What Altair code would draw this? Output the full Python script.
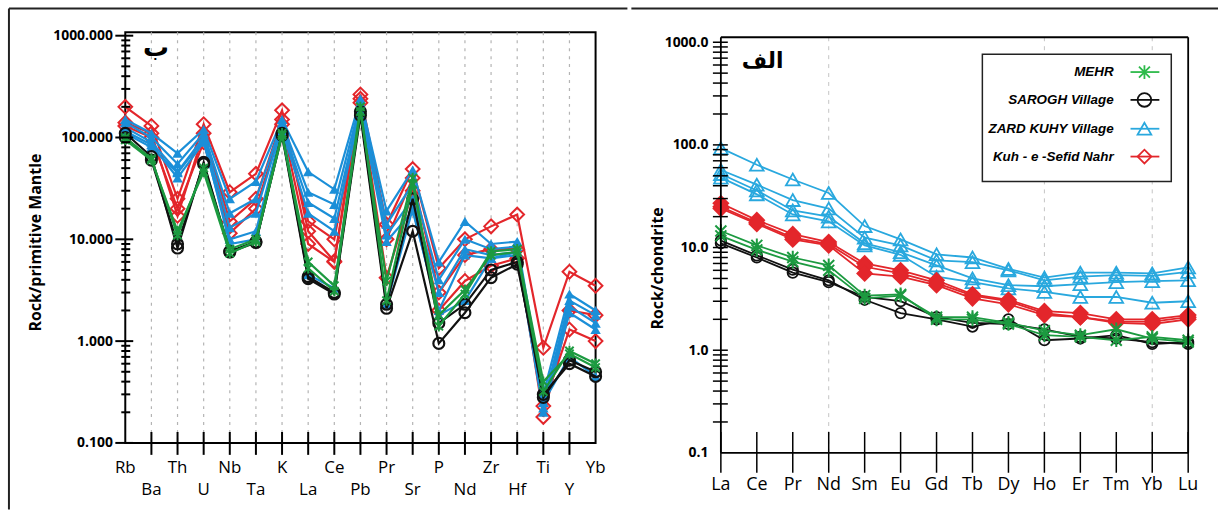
import altair as alt
import pandas as pd

# ---------------- data ----------------
SPIDER_ELEMENTS = ["Rb", "Ba", "Th", "U", "Nb", "Ta", "K", "La", "Ce", "Pb",
                   "Pr", "Sr", "P", "Nd", "Zr", "Hf", "Ti", "Y", "Yb"]
REE_ELEMENTS = ["La", "Ce", "Pr", "Nd", "Sm", "Eu", "Gd", "Tb", "Dy", "Ho",
                "Er", "Tm", "Yb", "Lu"]

GROUPS = ["MEHR", "SAROGH  Village", "ZARD KUHY Village", "Kuh - e -Sefid Nahr"]

# primitive-mantle normalised (left panel)
sp_red_1 = [200, 130, 25, 135, 29, 44, 185, 12, 6.1, 265, 14, 49, 5.2, 10, 13.4, 17.5, 0.86, 4.8, 3.5]
sp_red_2 = [130, 100, 20, 90, 11.5, 20, 135, 9, 6.0, 220, 4.2, 30, 2.0, 3.9, 5.5, 6.5, 0.23, 1.3, 1.0]
sp_red_3 = [140, 110, 17, 110, 15, 25, 150, 15, 10, 240, 10, 40, 3.0, 7, 8, 8, 0.18, 2.0, 1.8]
sp_blue_1 = [150, 110, 70, 120, 25, 37, 150, 46, 31, 240, 19, 48, 6, 15, 9, 9.5, 0.30, 2.9, 2.0]
sp_blue_2 = [140, 100, 55, 110, 18, 25, 140, 29, 22, 220, 14, 35, 4, 10, 8, 8.5, 0.25, 2.5, 1.8]
sp_blue_3 = [125, 90, 46, 100, 13, 18, 130, 23, 16, 200, 11, 25, 3, 8, 7, 7.5, 0.22, 2.2, 1.5]
sp_blue_4 = [115, 85, 40, 90, 10, 12, 120, 18, 12, 190, 9.5, 19, 2.0, 7, 6.5, 7, 0.20, 1.9, 1.3]
sp_blue_5 = [110, 80, 45, 95, 9, 10, 125, 4.5, 3.3, 200, 2.3, 20, 1.8, 2.5, 6.5, 7.5, 0.25, 0.7, 0.45]
sp_black_1 = [110, 65, 8.2, 57, 7.6, 9.5, 105, 4.1, 2.9, 165, 2.1, 12, 0.95, 1.9, 4.2, 5.7, 0.30, 0.6, 0.45]
sp_black_2 = [100, 60, 9, 55, 7.5, 9.3, 110, 4.3, 3.0, 180, 2.3, 25, 1.5, 2.3, 5, 6, 0.28, 0.65, 0.5]
sp_green_1 = [95, 60, 12, 46, 7.3, 9.5, 105, 5.2, 3.1, 180, 3.9, 40, 1.4, 2.9, 7.6, 8, 0.40, 0.75, 0.55]
sp_green_2 = [100, 62, 11, 50, 8, 10, 110, 6, 3.5, 200, 2.5, 35, 1.8, 3.2, 7, 7.5, 0.32, 0.8, 0.6]

# chondrite normalised REE (right panel)
ree_blue_1 = [93, 64, 46, 34, 16.2, 12, 8.6, 8.0, 6.2, 5.1, 5.7, 5.7, 5.6, 6.4]
ree_blue_2 = [57, 41, 29, 24, 12.5, 10.5, 7.5, 7.2, 6.0, 4.8, 5.2, 5.4, 5.3, 5.8]
ree_blue_3 = [52, 36, 23, 20, 11, 9, 6.7, 5.0, 4.3, 4.2, 4.4, 4.6, 4.7, 4.8]
ree_blue_4 = [48, 33, 21, 18, 10.5, 8.5, 5.2, 4.6, 4.0, 3.7, 3.3, 3.3, 2.9, 3.0]
ree_red_1 = [27, 18.5, 13.5, 11.3, 7.0, 6.0, 4.8, 3.5, 3.1, 2.4, 2.3, 2.0, 2.0, 2.2]
ree_red_2 = [25, 17.5, 12.5, 10.8, 6.5, 5.6, 4.5, 3.4, 3.0, 2.3, 2.1, 1.9, 1.9, 2.1]
ree_red_3 = [24, 17, 12, 10.5, 5.6, 5.2, 4.3, 3.2, 2.8, 2.2, 2.1, 1.85, 1.8, 2.0]
ree_black_1 = [11.7, 8.4, 6.1, 4.8, 3.1, 2.3, 2.0, 1.7, 2.0, 1.25, 1.3, 1.4, 1.15, 1.2]
ree_black_2 = [11, 8.0, 5.7, 4.6, 3.3, 3.0, 2.1, 1.85, 1.8, 1.6, 1.35, 1.3, 1.2, 1.15]
ree_green_1 = [14.5, 10.5, 8.0, 6.7, 3.4, 3.5, 2.0, 2.0, 1.8, 1.4, 1.35, 1.25, 1.35, 1.25]
ree_green_2 = [13, 9.5, 7.3, 6.0, 3.2, 3.4, 2.1, 2.1, 1.85, 1.55, 1.4, 1.6, 1.3, 1.2]

LEFT_MAJOR = [0.1, 1, 10, 100, 1000]
LEFT_MINOR = [m * d for d in [0.1, 1, 10, 100] for m in range(2, 10)]
RIGHT_MAJOR = [0.1, 1, 10, 100, 1000]
RIGHT_TICKS = [m * d for d in [0.1, 1, 10, 100] for m in range(2, 11)]

spider_samples = {
    "r1": (GROUPS[3], sp_red_1), "r2": (GROUPS[3], sp_red_2), "r3": (GROUPS[3], sp_red_3),
    "b1": (GROUPS[2], sp_blue_1), "b2": (GROUPS[2], sp_blue_2), "b3": (GROUPS[2], sp_blue_3),
    "b4": (GROUPS[2], sp_blue_4), "b5": (GROUPS[2], sp_blue_5),
    "k1": (GROUPS[1], sp_black_1), "k2": (GROUPS[1], sp_black_2),
    "g1": (GROUPS[0], sp_green_1), "g2": (GROUPS[0], sp_green_2),
}
ree_samples = {
    "b1": (GROUPS[2], ree_blue_1), "b2": (GROUPS[2], ree_blue_2),
    "b3": (GROUPS[2], ree_blue_3), "b4": (GROUPS[2], ree_blue_4),
    "r1": (GROUPS[3], ree_red_1), "r2": (GROUPS[3], ree_red_2), "r3": (GROUPS[3], ree_red_3),
    "k1": (GROUPS[1], ree_black_1), "k2": (GROUPS[1], ree_black_2),
    "g1": (GROUPS[0], ree_green_1), "g2": (GROUPS[0], ree_green_2),
}


def long_df(samples, elements):
    rows = []
    for name, (grp, vals) in samples.items():
        for i, (el, v) in enumerate(zip(elements, vals)):
            rows.append(dict(sample=name, group=grp, element=el, idx=i, value=v))
    return pd.DataFrame(rows)


spider_df = long_df(spider_samples, SPIDER_ELEMENTS)
ree_df = long_df(ree_samples, REE_ELEMENTS)

ASTERISK = "M-0.8,-0.8L0.8,0.8M-0.8,0.8L0.8,-0.8M0,-1L0,1"
RED = "#e3262b"
BLUE_L = "#1b8fd8"
BLUE_R = "#29a8de"
GREEN = "#1c9a40"
BLACK = "#111111"
one = pd.DataFrame({"a": [0]})

# ---------------- left panel ----------------
LW, LH = 473, 413
xs_l = alt.Scale(type="point", domain=SPIDER_ELEMENTS, padding=0)
ys_l = alt.Scale(type="log", domain=[0.1, 1080], nice=False)
axis_l = alt.Axis(values=LEFT_MAJOR, format=".3f", ticks=False, tickSize=0, domain=False,
                  grid=False, labelFont="Open Sans", labelFontWeight="bold", labelFontSize=14,
                  labelColor="black", labelPadding=13, title="Rock/primitive Mantle",
                  titleFont="Open Sans", titleFontWeight="bold", titleFontSize=16,
                  titleColor="black", titleX=-90, titleY=211, titleAngle=270,
                  titleBaseline="middle")


def XL(f="element"):
    return alt.X(f"{f}:N", scale=xs_l, axis=None)


def YL(f="value"):
    return alt.Y(f"{f}:Q", scale=ys_l, axis=axis_l)


left_layers = []
grid_l = pd.DataFrame({"el": SPIDER_ELEMENTS[1:-1]})
left_layers.append(alt.Chart(grid_l).mark_rule(color="#b4b4b4", strokeWidth=1.2, strokeDash=[3, 5])
                   .encode(x=XL("el"), y=alt.value(0), y2=alt.value(LH)))

styles_l = {
    GROUPS[3]: dict(color=RED, shape="diamond", filled=False, size=190, sw=2.0),
    GROUPS[2]: dict(color=BLUE_L, shape="triangle-up", filled=True, size=110, sw=2.0),
    GROUPS[1]: dict(color=BLACK, shape="circle", filled=False, size=120, sw=2.2),
    GROUPS[0]: dict(color=GREEN, shape=ASTERISK, filled=False, size=110, sw=2.0),
}
for g in [GROUPS[3], GROUPS[2], GROUPS[1], GROUPS[0]]:
    st = styles_l[g]
    d = spider_df[spider_df.group == g]
    left_layers.append(alt.Chart(d).mark_line(color=st["color"], strokeWidth=2.2)
                       .encode(x=XL(), y=YL(), detail="sample:N", order="idx:Q"))
    left_layers.append(alt.Chart(d).mark_point(color=st["color"], shape=st["shape"],
                                               filled=st["filled"], size=st["size"],
                                               strokeWidth=st["sw"], opacity=1)
                       .encode(x=XL(), y=YL()))

# y ticks crossing the axis
left_layers.append(alt.Chart(pd.DataFrame({"v": LEFT_MAJOR})).mark_rule(color="black", strokeWidth=2)
                   .encode(y=YL("v"), x=alt.value(-10), x2=alt.value(8)))
left_layers.append(alt.Chart(pd.DataFrame({"v": LEFT_MINOR})).mark_rule(color="black", strokeWidth=2)
                   .encode(y=YL("v"), x=alt.value(-4), x2=alt.value(5)))
# x ticks crossing the axis
left_layers.append(alt.Chart(grid_l).mark_rule(color="black", strokeWidth=2)
                   .encode(x=XL("el"), y=alt.value(LH - 11), y2=alt.value(LH + 12)))
# x labels in two rows
left_layers.append(alt.Chart(pd.DataFrame({"el": SPIDER_ELEMENTS[0::2]}))
                   .mark_text(font="Open Sans", fontSize=17, baseline="middle", color="black")
                   .encode(x=XL("el"), y=alt.value(LH + 25), text="el:N"))
left_layers.append(alt.Chart(pd.DataFrame({"el": SPIDER_ELEMENTS[1::2]}))
                   .mark_text(font="Open Sans", fontSize=17, baseline="middle", color="black")
                   .encode(x=XL("el"), y=alt.value(LH + 47), text="el:N"))
# panel label
left_layers.append(alt.Chart(one).mark_text(text="ب", font="DejaVu Sans", fontWeight="bold",
                                            fontSize=26, color="black")
                   .encode(x=alt.value(31), y=alt.value(16)))
# outer figure frame
left_layers.append(alt.Chart(one).mark_rule(color="#222", strokeWidth=2)
                   .encode(x=alt.value(-117), x2=alt.value(505), y=alt.value(-24)))
left_layers.append(alt.Chart(one).mark_rule(color="#222", strokeWidth=2)
                   .encode(x=alt.value(-117), y=alt.value(-24), y2=alt.value(480)))

left = alt.layer(*left_layers).properties(width=LW, height=LH)

# ---------------- right panel ----------------
RW, RH = 470, 423
RTOP = 5  # the panel frame starts 5 px below the left panel's top
xs_r = alt.Scale(type="point", domain=REE_ELEMENTS, padding=0)
ys_r = alt.Scale(type="log", domain=[0.1, 1250], nice=False)
axis_r = alt.Axis(values=RIGHT_MAJOR, format=".1f", ticks=False, tickSize=0, domain=False,
                  grid=False, labelFont="Open Sans", labelFontWeight="bold", labelFontSize=14,
                  labelColor="black", labelPadding=13, title="Rock/chondrite",
                  titleFont="Open Sans", titleFontWeight="bold", titleFontSize=16,
                  titleColor="black", titleX=-64, titleY=237, titleAngle=270,
                  titleBaseline="middle")


def XR(f="element"):
    return alt.X(f"{f}:N", scale=xs_r, axis=None)


def YR(f="value"):
    return alt.Y(f"{f}:Q", scale=ys_r, axis=axis_r)


right_layers = []
right_layers.append(alt.Chart(pd.DataFrame({"el": ["Nd", "Ho", "Yb"]}))
                    .mark_rule(color="#c4c4c4", strokeWidth=1, strokeDash=[4, 5])
                    .encode(x=XR("el"), y=alt.value(RTOP), y2=alt.value(RH)))

styles_r = {
    GROUPS[2]: dict(color=BLUE_R, shape="triangle-up", filled=False, size=190, sw=1.8),
    GROUPS[3]: dict(color=RED, shape="diamond", filled=True, size=300, sw=1.5),
    GROUPS[1]: dict(color=BLACK, shape="circle", filled=False, size=110, sw=1.8),
    GROUPS[0]: dict(color=GREEN, shape=ASTERISK, filled=False, size=190, sw=2.0),
}
for g in [GROUPS[2], GROUPS[3], GROUPS[1], GROUPS[0]]:
    st = styles_r[g]
    d = ree_df[ree_df.group == g]
    right_layers.append(alt.Chart(d).mark_line(color=st["color"], strokeWidth=1.8)
                        .encode(x=XR(), y=YR(), detail="sample:N", order="idx:Q"))
    right_layers.append(alt.Chart(d).mark_point(color=st["color"], shape=st["shape"],
                                                filled=st["filled"], size=st["size"],
                                                strokeWidth=st["sw"], opacity=1)
                        .encode(x=XR(), y=YR()))

right_layers.append(alt.Chart(pd.DataFrame({"v": RIGHT_TICKS})).mark_rule(color="black", strokeWidth=1.5)
                    .encode(y=YR("v"), x=alt.value(-8), x2=alt.value(7)))
right_layers.append(alt.Chart(pd.DataFrame({"el": REE_ELEMENTS})).mark_rule(color="black", strokeWidth=1.5)
                    .encode(x=XR("el"), y=alt.value(RH - 21), y2=alt.value(RH + 20)))
right_layers.append(alt.Chart(pd.DataFrame({"el": REE_ELEMENTS}))
                    .mark_text(font="Open Sans", fontSize=18, baseline="middle", color="black")
                    .encode(x=XR("el"), y=alt.value(RH + 32), text="el:N"))
right_layers.append(alt.Chart(one).mark_text(text="الف", font="DejaVu Sans", fontWeight="bold",
                                             fontSize=22, color="black")
                    .encode(x=alt.value(42), y=alt.value(RTOP + 24)))

# panel frame
right_layers.append(alt.Chart(one).mark_rule(color="black", strokeWidth=1.8)
                    .encode(x=alt.value(0), x2=alt.value(RW), y=alt.value(RTOP)))
right_layers.append(alt.Chart(one).mark_rule(color="black", strokeWidth=1.8)
                    .encode(x=alt.value(0), x2=alt.value(RW), y=alt.value(RH)))
right_layers.append(alt.Chart(one).mark_rule(color="black", strokeWidth=1.8)
                    .encode(x=alt.value(0), y=alt.value(RTOP), y2=alt.value(RH)))
right_layers.append(alt.Chart(one).mark_rule(color="black", strokeWidth=1.8)
                    .encode(x=alt.value(RW), y=alt.value(RTOP), y2=alt.value(RH)))

# legend
LEGEND_COLORS = ["#2dba4a", BLACK, BLUE_R, RED]
LEGEND_SHAPES = [ASTERISK, "circle", "triangle-up", "diamond"]
LEGEND_Y = [40, 68, 97, 125]
right_layers.append(alt.Chart(one).mark_rect(fill="white", stroke="#222", strokeWidth=1.5)
                    .encode(x=alt.value(263), x2=alt.value(453), y=alt.value(22), y2=alt.value(150)))
for lab, col, shp, ly in zip(GROUPS, LEGEND_COLORS, LEGEND_SHAPES, LEGEND_Y):
    right_layers.append(alt.Chart(one).mark_text(text=lab, font="Liberation Sans", fontWeight="bold",
                                                 fontStyle="italic", fontSize=13.5, align="right",
                                                 baseline="middle", color="black")
                        .encode(x=alt.value(395), y=alt.value(ly)))
    right_layers.append(alt.Chart(one).mark_rule(color=col, strokeWidth=1.8)
                        .encode(x=alt.value(412), x2=alt.value(441), y=alt.value(ly)))
    right_layers.append(alt.Chart(one).mark_point(shape=shp, filled=False, color=col, size=190,
                                                  strokeWidth=1.8, opacity=1)
                        .encode(x=alt.value(426), y=alt.value(ly)))

right_layers.append(alt.Chart(one).mark_rule(color="#222", strokeWidth=2)
                    .encode(x=alt.value(-90), x2=alt.value(500), y=alt.value(-24)))

right = (alt.layer(*right_layers)
         .properties(width=RW, height=RH, view=alt.ViewBackground(stroke="transparent")))

chart = (alt.hconcat(left, right, spacing=0)
         .properties(padding={"left": 7, "top": 5, "right": 0, "bottom": 0}, background="white")
         .configure_view(stroke="black", strokeWidth=2))

chart.save("out.html", embed_options={"renderer": "svg", "actions": False})
